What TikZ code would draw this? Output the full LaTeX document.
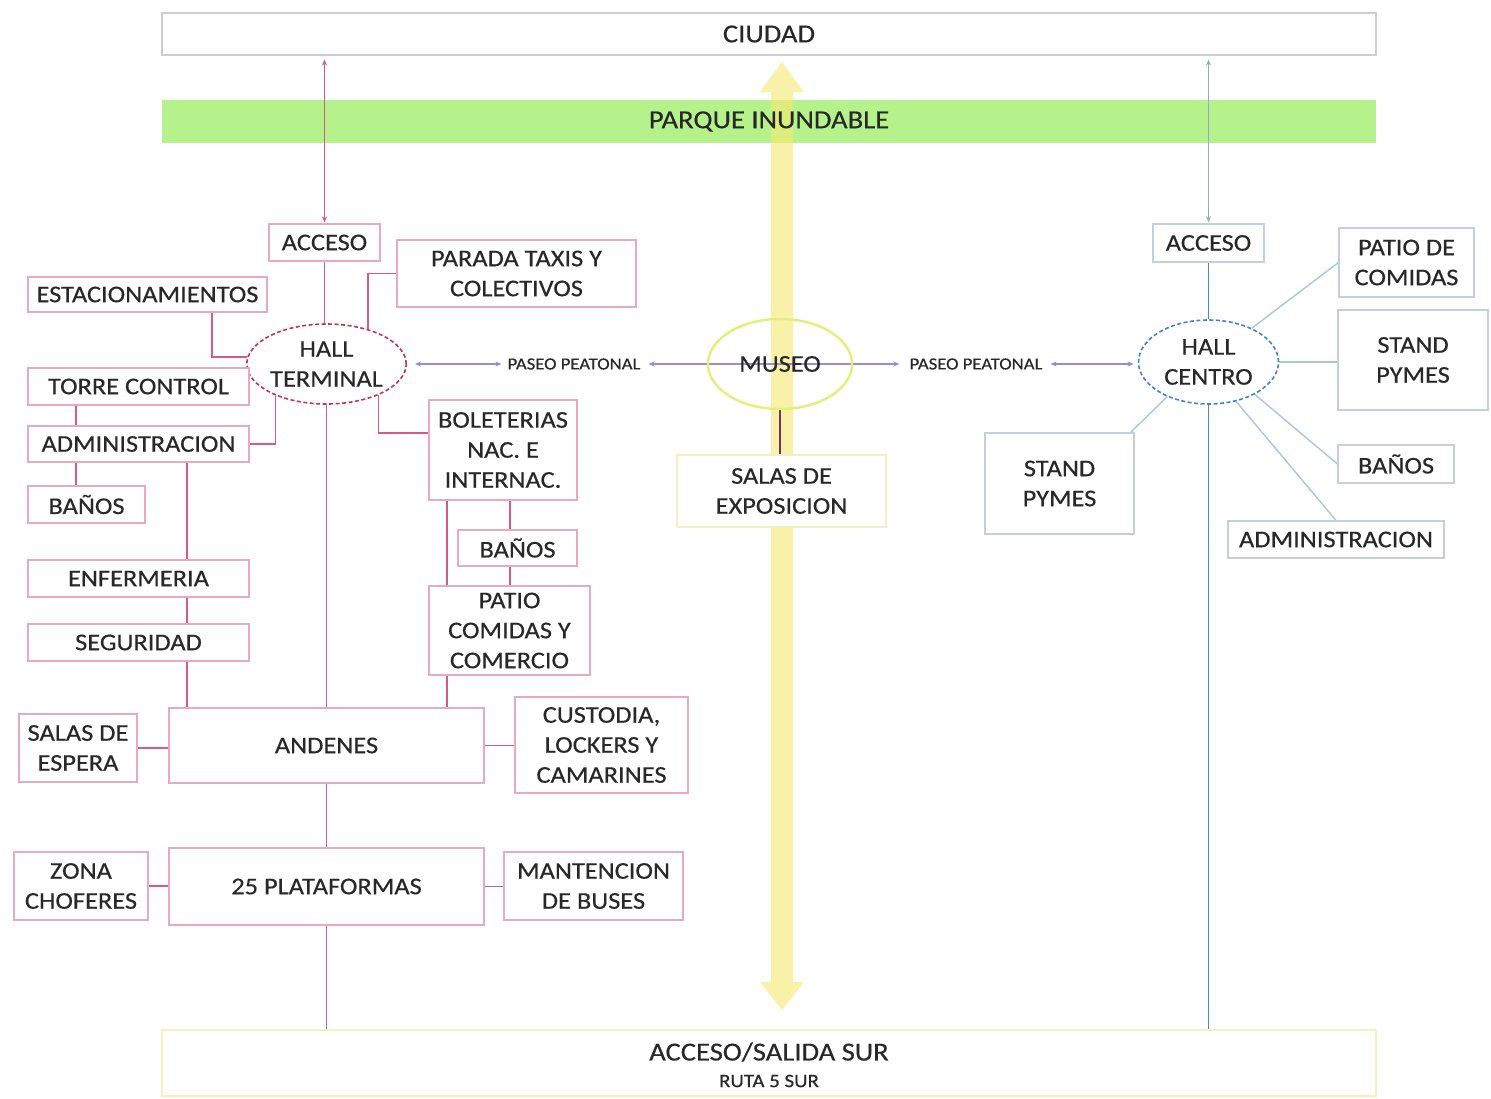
\documentclass[tikz,border=0pt]{standalone}
\usepackage{fontspec}
\setmainfont{Carlito}[FakeStretch=1.1,FakeBold=0.4]
\usetikzlibrary{shapes.geometric,arrows.meta}
\definecolor{txt}{RGB}{40,40,40}
\definecolor{pline}{RGB}{214,90,130}
\definecolor{pbord}{RGB}{232,170,192}
\definecolor{bline}{RGB}{80,130,210}
\definecolor{bgray}{RGB}{150,170,200}
\definecolor{rbord}{RGB}{195,208,218}
\definecolor{rconn}{RGB}{165,200,218}
\definecolor{hallTc}{RGB}{200,50,90}
\definecolor{hallCc}{RGB}{70,130,200}
\definecolor{parque}{RGB}{182,242,140}
\definecolor{yarr}{RGB}{247,232,110}
\definecolor{museoc}{RGB}{225,240,120}
\definecolor{expb}{RGB}{240,242,190}
\definecolor{surb}{RGB}{242,242,185}
\definecolor{paseo}{RGB}{150,140,220}
\definecolor{mlink}{RGB}{120,50,90}
\definecolor{cgray}{RGB}{205,205,205}
\pgfdeclarelayer{bg}
\pgfdeclarelayer{lines}
\pgfsetlayers{bg,lines,main}
\tikzset{
  lbl/.style={text=txt, font=\fontsize{24}{30}\selectfont, align=center, inner sep=0pt},
  pbox/.style={lbl, draw=pbord, line width=1.2pt, fill=white, rectangle},
  rbox/.style={lbl, draw=rbord, line width=1.2pt, fill=white, rectangle},
  pconn/.style={draw=pline, line width=1.4pt},
  rconnl/.style={draw=rconn, line width=1.4pt},
  hdash/.style={dash pattern=on 4pt off 2.5pt, line width=1.6pt},
  dtip/.style={{Stealth[length=6pt,width=5pt]}-{Stealth[length=6pt,width=5pt]}},
}
\begin{document}
\begin{tikzpicture}[x=1pt,y=-1pt]
\useasboundingbox (0,0) rectangle (1491,1098);

% ---------- main layer nodes ----------
\node[pbox, minimum width=111, minimum height=37] (acc1) at (324.5,242.5) {ACCESO};
\node[pbox, minimum width=239, minimum height=67] (par) at (516.5,273.5) {PARADA TAXIS Y\\COLECTIVOS};
\node[pbox, minimum width=239, minimum height=35] (est) at (147.5,294.5) {ESTACIONAMIENTOS};
\node[lbl, ellipse, draw=hallTc, hdash, fill=white, minimum width=146, minimum height=80] (hallT) at (326.5,364) {HALL\\TERMINAL};
\node[pbox, minimum width=221, minimum height=37] (tor) at (138.5,386.5) {TORRE CONTROL};
\node[pbox, minimum width=221, minimum height=36] (adm) at (138.5,444) {ADMINISTRACION};
\node[pbox, minimum width=117, minimum height=37] (ban1) at (86.5,504.5) {BAÑOS};
\node[pbox, minimum width=221, minimum height=37] (enf) at (138.5,578.5) {ENFERMERIA};
\node[pbox, minimum width=221, minimum height=37] (seg) at (138.5,642.5) {SEGURIDAD};
\node[pbox, minimum width=148, minimum height=100] (bol) at (503,450) {BOLETERIAS\\NAC. E\\INTERNAC.};
\node[pbox, minimum width=119, minimum height=36] (ban2) at (517.5,548) {BAÑOS};
\node[pbox, minimum width=161, minimum height=89] (pat) at (509.5,630.5) {PATIO\\COMIDAS Y\\COMERCIO};
\node[pbox, minimum width=315, minimum height=75] (and) at (326.5,745.5) {ANDENES};
\node[pbox, minimum width=118, minimum height=68] (sal) at (78,748) {SALAS DE\\ESPERA};
\node[pbox, minimum width=173, minimum height=96] (cus) at (601.5,745) {CUSTODIA,\\LOCKERS Y\\CAMARINES};
\node[pbox, minimum width=315, minimum height=77] (pla) at (326.5,886.5) {25 PLATAFORMAS};
\node[pbox, minimum width=134, minimum height=68] (zon) at (81,886) {ZONA\\CHOFERES};
\node[pbox, minimum width=179, minimum height=68] (man) at (593.5,886) {MANTENCION\\DE BUSES};
\node[lbl, draw=surb, line width=2.4pt, fill=white, minimum width=1214, minimum height=66] (sur) at (769,1063) {};
\node[lbl, font=\fontsize{26}{30}\selectfont] (surt) at (769,1052) {ACCESO/SALIDA SUR};
\node[lbl, font=\fontsize{19}{22}\selectfont] (surr) at (769,1081) {RUTA 5 SUR};
\node[lbl, ellipse, draw=museoc, line width=2.4pt, minimum width=144, minimum height=90] (mus) at (780,364) {MUSEO};
\node[lbl, draw=expb, line width=2pt, fill=white, minimum width=209, minimum height=72] (exp) at (781.5,491) {SALAS DE\\EXPOSICION};
\node[rbox, minimum width=111, minimum height=38] (acc2) at (1208.5,243) {ACCESO};
\node[lbl, ellipse, draw=hallCc, hdash, fill=white, minimum width=140, minimum height=84] (hallC) at (1208.5,362) {HALL\\CENTRO};
\node[rbox, minimum width=135, minimum height=69] (pdc) at (1406.5,262.5) {PATIO DE\\COMIDAS};
\node[rbox, minimum width=150, minimum height=100] (spr) at (1413,360) {STAND\\PYMES};
\node[rbox, minimum width=116, minimum height=38] (bnr) at (1396,464) {BAÑOS};
\node[rbox, minimum width=216, minimum height=37] (admr) at (1336,539.5) {ADMINISTRACION};
\node[rbox, minimum width=149, minimum height=101] (spl) at (1059.5,483.5) {STAND\\PYMES};
\node[lbl, font=\fontsize{17}{20}\selectfont] (p1) at (574,364) {PASEO PEATONAL};
\node[lbl, font=\fontsize{17}{20}\selectfont] (p2) at (976,364) {PASEO PEATONAL};

% ---------- background ----------
\begin{pgfonlayer}{bg}
\fill[white] (0,0) rectangle (1491,1098);
\node[lbl, font=\fontsize{26}{30}\selectfont, draw=cgray, line width=1.2pt, fill=white, minimum width=1214, minimum height=42] (ciu) at (769,34) {CIUDAD};
\node[fill=parque, inner sep=0pt, minimum width=1214, minimum height=43] (prq) at (769,121.5) {};
\fill[yarr, opacity=0.6] (782,62) -- (804,92) -- (793,92) -- (793,982) -- (804,982) -- (782,1010) -- (760,982) -- (771,982) -- (771,92) -- (760,92) -- cycle;
\node[lbl, font=\fontsize{26}{30}\selectfont] (prqt) at (prq.center) {PARQUE INUNDABLE};
\end{pgfonlayer}

% ---------- connectors ----------
\begin{pgfonlayer}{lines}
% left spine
\draw[pline, line width=1.4pt, dtip, shorten <=4pt, shorten >=1pt] (acc1.north |- ciu.south) -- (acc1.north);
\draw[pconn] (acc1.south) -- (acc1.south |- hallT.north);
\draw[pconn] (hallT.south) -- (hallT.south |- and.north);
\draw[pconn] (hallT.south |- and.south) -- (hallT.south |- pla.north);
\draw[pconn] (hallT.south |- pla.south) -- (hallT.south |- sur.north);
% around hall terminal
\draw[pconn] ([xshift=64.5pt]est.south) |- (hallT.175);
\draw[pconn] (par.west) -| (hallT.40);
\draw[pconn] (adm.east) -| (hallT.212);
\draw[pconn] (hallT.-31) |- ([yshift=17pt]bol.west);
\draw[pconn] ([xshift=-62.5pt]tor.south) -- ([xshift=-62.5pt]adm.north);
\draw[pconn] ([xshift=-62.5pt]adm.south) -- ([xshift=-62.5pt]adm.south |- ban1.north);
\draw[pconn] ([xshift=48.5pt]adm.south) -- ([xshift=48.5pt]adm.south |- and.north);
\draw[pconn] ([xshift=-56pt]bol.south) -- ([xshift=-56pt]bol.south |- pat.north);
\draw[pconn] ([xshift=-62.5pt]pat.south) -- ([xshift=-62.5pt]pat.south |- and.north);
\draw[pconn] ([xshift=7pt]bol.south) -- ([xshift=7pt]bol.south |- ban2.north);
\draw[pconn] ([xshift=-7.5pt]ban2.south) -- ([xshift=-7.5pt]ban2.south |- pat.north);
\draw[pconn] (sal.east) -- (sal.east -| and.west);
\draw[pconn] (and.east) -- (and.east -| cus.west);
\draw[pconn] (zon.east) -- (zon.east -| pla.west);
\draw[pconn] (pla.east) -- (pla.east -| man.west);
% museo
\draw[mlink, line width=1.6pt] (mus.south) -- (mus.south |- exp.north);
% paseo peatonal
\draw[paseo, line width=1.3pt, dtip, shorten <=8pt, shorten >=6pt] (hallT.east) -- (p1.west);
\draw[paseo, line width=1.3pt, dtip, shorten <=8pt, shorten >=10pt] (p1.east) -- (p2.west);
\draw[paseo, line width=1.3pt, dtip, shorten <=8pt, shorten >=4pt] (p2.east) -- (p2.east -| hallC.west);
% right spine
\draw[bgray, line width=1.3pt, dtip, shorten <=4pt, shorten >=1pt] (acc2.north |- ciu.south) -- (acc2.north);
\draw[bline, line width=1.4pt] (acc2.south) -- (hallC.north);
\draw[bline, line width=1.4pt] (hallC.south) -- (hallC.south |- sur.north);
% around hall centro
\draw[rconnl] (hallC.38) -- (pdc.west);
\draw[rconnl] (hallC.east) -- (hallC.east -| spr.west);
\draw[rconnl] (hallC.-35) -- (bnr.west);
\draw[rconnl] (hallC.-55) -- (admr.north);
\draw[rconnl] (hallC.-140) -- ([xshift=-4pt]spl.north east);
\end{pgfonlayer}
\end{tikzpicture}
\end{document}
